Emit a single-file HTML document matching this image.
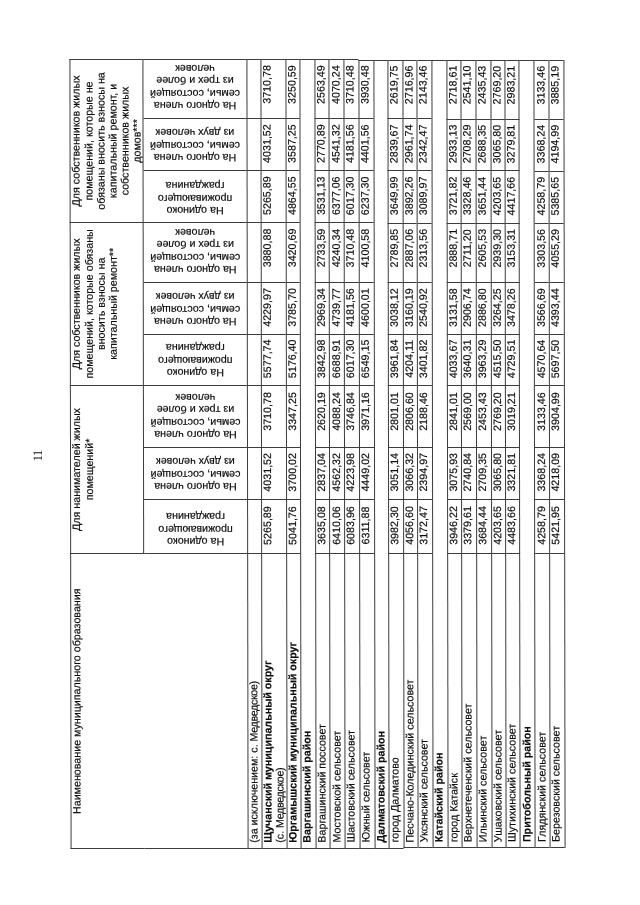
<!DOCTYPE html>
<html lang="ru"><head><meta charset="utf-8"><title>11</title>
<style>
html,body{margin:0;padding:0;background:#fff}
html{overflow:hidden}
body{width:640px;height:905px;overflow:hidden;position:relative}
#sheet{position:absolute;left:0;top:0;width:640px;height:905px;overflow:hidden;background:#fff}
#page{position:absolute;left:0;top:0;width:905px;height:636px;transform-origin:0 0;transform:translate(0,905px) rotate(-90deg) matrix(1,-0.0015,0,1,0,0.6795);font-family:"Liberation Sans",sans-serif;font-size:10.7px;line-height:12.3px;color:#0c0c0c;-webkit-text-stroke:0.18px #0c0c0c}
.l{position:absolute;display:block}
.c{position:absolute;box-sizing:border-box;white-space:nowrap;overflow:visible}
.h{text-align:center;margin-top:0.4px;line-height:12.15px}
.n{text-align:left;margin-top:-0.3px}
.d{text-align:center;margin-top:-0.3px;margin-left:1px}
.t{letter-spacing:-0.36px}
.r{position:absolute;text-align:center;white-space:nowrap;transform:rotate(-90deg);transform-origin:50% 50%}
#pn{position:absolute;left:429.1px;width:40px;text-align:center;top:31.0px;font-family:"Liberation Serif",serif;font-size:13px;line-height:13px;letter-spacing:-0.65px;-webkit-text-stroke:0}
</style></head><body>
<div id="sheet"><div id="page">
<div id="pn">11</div>
<i class="l" style="left:55.60px;top:69.60px;width:790.70px;height:1.0px;background:#3c3c3c"></i>
<i class="l" style="left:350.68px;top:143.40px;width:495.42px;height:1.0px;background:#3c3c3c"></i>
<i class="l" style="left:56.08px;top:246.70px;width:789.73px;height:1.0px;background:#3c3c3c"></i>
<i class="l" style="left:56.12px;top:260.70px;width:789.65px;height:1.0px;background:#3c3c3c"></i>
<i class="l" style="left:56.19px;top:285.80px;width:789.52px;height:1.0px;background:#3c3c3c"></i>
<i class="l" style="left:56.23px;top:299.80px;width:789.44px;height:1.0px;background:#3c3c3c"></i>
<i class="l" style="left:56.27px;top:314.80px;width:789.36px;height:1.0px;background:#3c3c3c"></i>
<i class="l" style="left:56.31px;top:329.30px;width:789.28px;height:1.0px;background:#3c3c3c"></i>
<i class="l" style="left:56.35px;top:344.10px;width:789.20px;height:1.0px;background:#3c3c3c"></i>
<i class="l" style="left:56.39px;top:358.70px;width:789.12px;height:1.0px;background:#3c3c3c"></i>
<i class="l" style="left:56.43px;top:373.80px;width:789.04px;height:1.0px;background:#3c3c3c"></i>
<i class="l" style="left:56.47px;top:387.90px;width:788.96px;height:1.0px;background:#3c3c3c"></i>
<i class="l" style="left:56.51px;top:402.70px;width:788.88px;height:1.0px;background:#3c3c3c"></i>
<i class="l" style="left:56.55px;top:417.00px;width:788.80px;height:1.0px;background:#3c3c3c"></i>
<i class="l" style="left:56.59px;top:431.50px;width:788.72px;height:1.0px;background:#3c3c3c"></i>
<i class="l" style="left:56.63px;top:446.70px;width:788.64px;height:1.0px;background:#3c3c3c"></i>
<i class="l" style="left:56.67px;top:460.80px;width:788.56px;height:1.0px;background:#3c3c3c"></i>
<i class="l" style="left:56.71px;top:475.50px;width:788.48px;height:1.0px;background:#3c3c3c"></i>
<i class="l" style="left:56.75px;top:490.50px;width:788.40px;height:1.0px;background:#3c3c3c"></i>
<i class="l" style="left:56.79px;top:505.00px;width:788.32px;height:1.0px;background:#3c3c3c"></i>
<i class="l" style="left:56.83px;top:519.30px;width:788.24px;height:1.0px;background:#3c3c3c"></i>
<i class="l" style="left:56.87px;top:534.40px;width:788.16px;height:1.0px;background:#3c3c3c"></i>
<i class="l" style="left:56.91px;top:549.00px;width:788.08px;height:1.0px;background:#3c3c3c"></i>
<i class="l" style="left:56.95px;top:563.60px;width:788.00px;height:1.0px;background:#3c3c3c"></i>
<i class="l" style="left:55.70px;top:70.10px;width:1.0px;height:73.80px;background:#3c3c3c"></i>
<i class="l" style="left:350.65px;top:70.10px;width:1.0px;height:73.80px;background:#3c3c3c"></i>
<i class="l" style="left:519.43px;top:70.10px;width:1.0px;height:73.80px;background:#3c3c3c"></i>
<i class="l" style="left:681.92px;top:70.10px;width:1.0px;height:73.80px;background:#3c3c3c"></i>
<i class="l" style="left:845.20px;top:70.10px;width:1.0px;height:73.80px;background:#3c3c3c"></i>
<i class="l" style="left:55.94px;top:143.90px;width:1.0px;height:103.30px;background:#3c3c3c"></i>
<i class="l" style="left:350.71px;top:143.90px;width:1.0px;height:103.30px;background:#3c3c3c"></i>
<i class="l" style="left:405.10px;top:143.90px;width:1.0px;height:103.30px;background:#3c3c3c"></i>
<i class="l" style="left:457.30px;top:143.90px;width:1.0px;height:103.30px;background:#3c3c3c"></i>
<i class="l" style="left:519.39px;top:143.90px;width:1.0px;height:103.30px;background:#3c3c3c"></i>
<i class="l" style="left:570.09px;top:143.90px;width:1.0px;height:103.30px;background:#3c3c3c"></i>
<i class="l" style="left:622.18px;top:143.90px;width:1.0px;height:103.30px;background:#3c3c3c"></i>
<i class="l" style="left:681.77px;top:143.90px;width:1.0px;height:103.30px;background:#3c3c3c"></i>
<i class="l" style="left:734.17px;top:143.90px;width:1.0px;height:103.30px;background:#3c3c3c"></i>
<i class="l" style="left:786.06px;top:143.90px;width:1.0px;height:103.30px;background:#3c3c3c"></i>
<i class="l" style="left:844.96px;top:143.90px;width:1.0px;height:103.30px;background:#3c3c3c"></i>
<i class="l" style="left:56.10px;top:247.20px;width:1.0px;height:14.00px;background:#3c3c3c"></i>
<i class="l" style="left:350.75px;top:247.20px;width:1.0px;height:14.00px;background:#3c3c3c"></i>
<i class="l" style="left:405.12px;top:247.20px;width:1.0px;height:14.00px;background:#3c3c3c"></i>
<i class="l" style="left:457.30px;top:247.20px;width:1.0px;height:14.00px;background:#3c3c3c"></i>
<i class="l" style="left:519.36px;top:247.20px;width:1.0px;height:14.00px;background:#3c3c3c"></i>
<i class="l" style="left:570.04px;top:247.20px;width:1.0px;height:14.00px;background:#3c3c3c"></i>
<i class="l" style="left:622.11px;top:247.20px;width:1.0px;height:14.00px;background:#3c3c3c"></i>
<i class="l" style="left:681.68px;top:247.20px;width:1.0px;height:14.00px;background:#3c3c3c"></i>
<i class="l" style="left:734.05px;top:247.20px;width:1.0px;height:14.00px;background:#3c3c3c"></i>
<i class="l" style="left:785.93px;top:247.20px;width:1.0px;height:14.00px;background:#3c3c3c"></i>
<i class="l" style="left:844.80px;top:247.20px;width:1.0px;height:14.00px;background:#3c3c3c"></i>
<i class="l" style="left:56.16px;top:261.20px;width:1.0px;height:25.10px;background:#3c3c3c"></i>
<i class="l" style="left:350.76px;top:261.20px;width:1.0px;height:25.10px;background:#3c3c3c"></i>
<i class="l" style="left:405.13px;top:261.20px;width:1.0px;height:25.10px;background:#3c3c3c"></i>
<i class="l" style="left:457.30px;top:261.20px;width:1.0px;height:25.10px;background:#3c3c3c"></i>
<i class="l" style="left:519.36px;top:261.20px;width:1.0px;height:25.10px;background:#3c3c3c"></i>
<i class="l" style="left:570.02px;top:261.20px;width:1.0px;height:25.10px;background:#3c3c3c"></i>
<i class="l" style="left:622.09px;top:261.20px;width:1.0px;height:25.10px;background:#3c3c3c"></i>
<i class="l" style="left:681.65px;top:261.20px;width:1.0px;height:25.10px;background:#3c3c3c"></i>
<i class="l" style="left:734.02px;top:261.20px;width:1.0px;height:25.10px;background:#3c3c3c"></i>
<i class="l" style="left:785.88px;top:261.20px;width:1.0px;height:25.10px;background:#3c3c3c"></i>
<i class="l" style="left:844.74px;top:261.20px;width:1.0px;height:25.10px;background:#3c3c3c"></i>
<i class="l" style="left:56.21px;top:286.30px;width:1.0px;height:14.00px;background:#3c3c3c"></i>
<i class="l" style="left:350.78px;top:286.30px;width:1.0px;height:14.00px;background:#3c3c3c"></i>
<i class="l" style="left:405.14px;top:286.30px;width:1.0px;height:14.00px;background:#3c3c3c"></i>
<i class="l" style="left:457.29px;top:286.30px;width:1.0px;height:14.00px;background:#3c3c3c"></i>
<i class="l" style="left:519.35px;top:286.30px;width:1.0px;height:14.00px;background:#3c3c3c"></i>
<i class="l" style="left:570.01px;top:286.30px;width:1.0px;height:14.00px;background:#3c3c3c"></i>
<i class="l" style="left:622.06px;top:286.30px;width:1.0px;height:14.00px;background:#3c3c3c"></i>
<i class="l" style="left:681.62px;top:286.30px;width:1.0px;height:14.00px;background:#3c3c3c"></i>
<i class="l" style="left:733.98px;top:286.30px;width:1.0px;height:14.00px;background:#3c3c3c"></i>
<i class="l" style="left:785.84px;top:286.30px;width:1.0px;height:14.00px;background:#3c3c3c"></i>
<i class="l" style="left:844.69px;top:286.30px;width:1.0px;height:14.00px;background:#3c3c3c"></i>
<i class="l" style="left:56.25px;top:300.30px;width:1.0px;height:15.00px;background:#3c3c3c"></i>
<i class="l" style="left:844.65px;top:300.30px;width:1.0px;height:15.00px;background:#3c3c3c"></i>
<i class="l" style="left:56.29px;top:315.30px;width:1.0px;height:14.50px;background:#3c3c3c"></i>
<i class="l" style="left:350.80px;top:315.30px;width:1.0px;height:14.50px;background:#3c3c3c"></i>
<i class="l" style="left:405.14px;top:315.30px;width:1.0px;height:14.50px;background:#3c3c3c"></i>
<i class="l" style="left:457.29px;top:315.30px;width:1.0px;height:14.50px;background:#3c3c3c"></i>
<i class="l" style="left:519.33px;top:315.30px;width:1.0px;height:14.50px;background:#3c3c3c"></i>
<i class="l" style="left:569.98px;top:315.30px;width:1.0px;height:14.50px;background:#3c3c3c"></i>
<i class="l" style="left:622.03px;top:315.30px;width:1.0px;height:14.50px;background:#3c3c3c"></i>
<i class="l" style="left:681.57px;top:315.30px;width:1.0px;height:14.50px;background:#3c3c3c"></i>
<i class="l" style="left:733.92px;top:315.30px;width:1.0px;height:14.50px;background:#3c3c3c"></i>
<i class="l" style="left:785.77px;top:315.30px;width:1.0px;height:14.50px;background:#3c3c3c"></i>
<i class="l" style="left:844.61px;top:315.30px;width:1.0px;height:14.50px;background:#3c3c3c"></i>
<i class="l" style="left:56.33px;top:329.80px;width:1.0px;height:14.80px;background:#3c3c3c"></i>
<i class="l" style="left:350.81px;top:329.80px;width:1.0px;height:14.80px;background:#3c3c3c"></i>
<i class="l" style="left:405.15px;top:329.80px;width:1.0px;height:14.80px;background:#3c3c3c"></i>
<i class="l" style="left:457.29px;top:329.80px;width:1.0px;height:14.80px;background:#3c3c3c"></i>
<i class="l" style="left:519.32px;top:329.80px;width:1.0px;height:14.80px;background:#3c3c3c"></i>
<i class="l" style="left:569.97px;top:329.80px;width:1.0px;height:14.80px;background:#3c3c3c"></i>
<i class="l" style="left:622.01px;top:329.80px;width:1.0px;height:14.80px;background:#3c3c3c"></i>
<i class="l" style="left:681.55px;top:329.80px;width:1.0px;height:14.80px;background:#3c3c3c"></i>
<i class="l" style="left:733.89px;top:329.80px;width:1.0px;height:14.80px;background:#3c3c3c"></i>
<i class="l" style="left:785.73px;top:329.80px;width:1.0px;height:14.80px;background:#3c3c3c"></i>
<i class="l" style="left:844.57px;top:329.80px;width:1.0px;height:14.80px;background:#3c3c3c"></i>
<i class="l" style="left:56.37px;top:344.60px;width:1.0px;height:14.60px;background:#3c3c3c"></i>
<i class="l" style="left:350.82px;top:344.60px;width:1.0px;height:14.60px;background:#3c3c3c"></i>
<i class="l" style="left:405.15px;top:344.60px;width:1.0px;height:14.60px;background:#3c3c3c"></i>
<i class="l" style="left:457.29px;top:344.60px;width:1.0px;height:14.60px;background:#3c3c3c"></i>
<i class="l" style="left:519.32px;top:344.60px;width:1.0px;height:14.60px;background:#3c3c3c"></i>
<i class="l" style="left:569.96px;top:344.60px;width:1.0px;height:14.60px;background:#3c3c3c"></i>
<i class="l" style="left:622.00px;top:344.60px;width:1.0px;height:14.60px;background:#3c3c3c"></i>
<i class="l" style="left:681.52px;top:344.60px;width:1.0px;height:14.60px;background:#3c3c3c"></i>
<i class="l" style="left:733.86px;top:344.60px;width:1.0px;height:14.60px;background:#3c3c3c"></i>
<i class="l" style="left:785.70px;top:344.60px;width:1.0px;height:14.60px;background:#3c3c3c"></i>
<i class="l" style="left:844.53px;top:344.60px;width:1.0px;height:14.60px;background:#3c3c3c"></i>
<i class="l" style="left:56.41px;top:359.20px;width:1.0px;height:15.10px;background:#3c3c3c"></i>
<i class="l" style="left:350.83px;top:359.20px;width:1.0px;height:15.10px;background:#3c3c3c"></i>
<i class="l" style="left:405.16px;top:359.20px;width:1.0px;height:15.10px;background:#3c3c3c"></i>
<i class="l" style="left:457.29px;top:359.20px;width:1.0px;height:15.10px;background:#3c3c3c"></i>
<i class="l" style="left:519.31px;top:359.20px;width:1.0px;height:15.10px;background:#3c3c3c"></i>
<i class="l" style="left:569.94px;top:359.20px;width:1.0px;height:15.10px;background:#3c3c3c"></i>
<i class="l" style="left:621.98px;top:359.20px;width:1.0px;height:15.10px;background:#3c3c3c"></i>
<i class="l" style="left:681.50px;top:359.20px;width:1.0px;height:15.10px;background:#3c3c3c"></i>
<i class="l" style="left:733.83px;top:359.20px;width:1.0px;height:15.10px;background:#3c3c3c"></i>
<i class="l" style="left:785.67px;top:359.20px;width:1.0px;height:15.10px;background:#3c3c3c"></i>
<i class="l" style="left:844.49px;top:359.20px;width:1.0px;height:15.10px;background:#3c3c3c"></i>
<i class="l" style="left:56.45px;top:374.30px;width:1.0px;height:14.10px;background:#3c3c3c"></i>
<i class="l" style="left:844.45px;top:374.30px;width:1.0px;height:14.10px;background:#3c3c3c"></i>
<i class="l" style="left:56.49px;top:388.40px;width:1.0px;height:14.80px;background:#3c3c3c"></i>
<i class="l" style="left:350.85px;top:388.40px;width:1.0px;height:14.80px;background:#3c3c3c"></i>
<i class="l" style="left:405.17px;top:388.40px;width:1.0px;height:14.80px;background:#3c3c3c"></i>
<i class="l" style="left:457.29px;top:388.40px;width:1.0px;height:14.80px;background:#3c3c3c"></i>
<i class="l" style="left:519.30px;top:388.40px;width:1.0px;height:14.80px;background:#3c3c3c"></i>
<i class="l" style="left:569.92px;top:388.40px;width:1.0px;height:14.80px;background:#3c3c3c"></i>
<i class="l" style="left:621.94px;top:388.40px;width:1.0px;height:14.80px;background:#3c3c3c"></i>
<i class="l" style="left:681.45px;top:388.40px;width:1.0px;height:14.80px;background:#3c3c3c"></i>
<i class="l" style="left:733.78px;top:388.40px;width:1.0px;height:14.80px;background:#3c3c3c"></i>
<i class="l" style="left:785.60px;top:388.40px;width:1.0px;height:14.80px;background:#3c3c3c"></i>
<i class="l" style="left:844.41px;top:388.40px;width:1.0px;height:14.80px;background:#3c3c3c"></i>
<i class="l" style="left:56.53px;top:403.20px;width:1.0px;height:14.30px;background:#3c3c3c"></i>
<i class="l" style="left:350.86px;top:403.20px;width:1.0px;height:14.30px;background:#3c3c3c"></i>
<i class="l" style="left:405.17px;top:403.20px;width:1.0px;height:14.30px;background:#3c3c3c"></i>
<i class="l" style="left:457.29px;top:403.20px;width:1.0px;height:14.30px;background:#3c3c3c"></i>
<i class="l" style="left:519.29px;top:403.20px;width:1.0px;height:14.30px;background:#3c3c3c"></i>
<i class="l" style="left:569.91px;top:403.20px;width:1.0px;height:14.30px;background:#3c3c3c"></i>
<i class="l" style="left:621.93px;top:403.20px;width:1.0px;height:14.30px;background:#3c3c3c"></i>
<i class="l" style="left:681.43px;top:403.20px;width:1.0px;height:14.30px;background:#3c3c3c"></i>
<i class="l" style="left:733.75px;top:403.20px;width:1.0px;height:14.30px;background:#3c3c3c"></i>
<i class="l" style="left:785.56px;top:403.20px;width:1.0px;height:14.30px;background:#3c3c3c"></i>
<i class="l" style="left:844.37px;top:403.20px;width:1.0px;height:14.30px;background:#3c3c3c"></i>
<i class="l" style="left:56.57px;top:417.50px;width:1.0px;height:14.50px;background:#3c3c3c"></i>
<i class="l" style="left:350.87px;top:417.50px;width:1.0px;height:14.50px;background:#3c3c3c"></i>
<i class="l" style="left:405.18px;top:417.50px;width:1.0px;height:14.50px;background:#3c3c3c"></i>
<i class="l" style="left:457.29px;top:417.50px;width:1.0px;height:14.50px;background:#3c3c3c"></i>
<i class="l" style="left:519.28px;top:417.50px;width:1.0px;height:14.50px;background:#3c3c3c"></i>
<i class="l" style="left:569.90px;top:417.50px;width:1.0px;height:14.50px;background:#3c3c3c"></i>
<i class="l" style="left:621.91px;top:417.50px;width:1.0px;height:14.50px;background:#3c3c3c"></i>
<i class="l" style="left:681.41px;top:417.50px;width:1.0px;height:14.50px;background:#3c3c3c"></i>
<i class="l" style="left:733.72px;top:417.50px;width:1.0px;height:14.50px;background:#3c3c3c"></i>
<i class="l" style="left:785.53px;top:417.50px;width:1.0px;height:14.50px;background:#3c3c3c"></i>
<i class="l" style="left:844.33px;top:417.50px;width:1.0px;height:14.50px;background:#3c3c3c"></i>
<i class="l" style="left:56.61px;top:432.00px;width:1.0px;height:15.20px;background:#3c3c3c"></i>
<i class="l" style="left:844.29px;top:432.00px;width:1.0px;height:15.20px;background:#3c3c3c"></i>
<i class="l" style="left:56.65px;top:447.20px;width:1.0px;height:14.10px;background:#3c3c3c"></i>
<i class="l" style="left:350.89px;top:447.20px;width:1.0px;height:14.10px;background:#3c3c3c"></i>
<i class="l" style="left:405.19px;top:447.20px;width:1.0px;height:14.10px;background:#3c3c3c"></i>
<i class="l" style="left:457.29px;top:447.20px;width:1.0px;height:14.10px;background:#3c3c3c"></i>
<i class="l" style="left:519.27px;top:447.20px;width:1.0px;height:14.10px;background:#3c3c3c"></i>
<i class="l" style="left:569.87px;top:447.20px;width:1.0px;height:14.10px;background:#3c3c3c"></i>
<i class="l" style="left:621.87px;top:447.20px;width:1.0px;height:14.10px;background:#3c3c3c"></i>
<i class="l" style="left:681.36px;top:447.20px;width:1.0px;height:14.10px;background:#3c3c3c"></i>
<i class="l" style="left:733.66px;top:447.20px;width:1.0px;height:14.10px;background:#3c3c3c"></i>
<i class="l" style="left:785.46px;top:447.20px;width:1.0px;height:14.10px;background:#3c3c3c"></i>
<i class="l" style="left:844.25px;top:447.20px;width:1.0px;height:14.10px;background:#3c3c3c"></i>
<i class="l" style="left:56.69px;top:461.30px;width:1.0px;height:14.70px;background:#3c3c3c"></i>
<i class="l" style="left:350.90px;top:461.30px;width:1.0px;height:14.70px;background:#3c3c3c"></i>
<i class="l" style="left:405.19px;top:461.30px;width:1.0px;height:14.70px;background:#3c3c3c"></i>
<i class="l" style="left:457.29px;top:461.30px;width:1.0px;height:14.70px;background:#3c3c3c"></i>
<i class="l" style="left:519.26px;top:461.30px;width:1.0px;height:14.70px;background:#3c3c3c"></i>
<i class="l" style="left:569.86px;top:461.30px;width:1.0px;height:14.70px;background:#3c3c3c"></i>
<i class="l" style="left:621.86px;top:461.30px;width:1.0px;height:14.70px;background:#3c3c3c"></i>
<i class="l" style="left:681.34px;top:461.30px;width:1.0px;height:14.70px;background:#3c3c3c"></i>
<i class="l" style="left:733.63px;top:461.30px;width:1.0px;height:14.70px;background:#3c3c3c"></i>
<i class="l" style="left:785.43px;top:461.30px;width:1.0px;height:14.70px;background:#3c3c3c"></i>
<i class="l" style="left:844.21px;top:461.30px;width:1.0px;height:14.70px;background:#3c3c3c"></i>
<i class="l" style="left:56.73px;top:476.00px;width:1.0px;height:15.00px;background:#3c3c3c"></i>
<i class="l" style="left:350.91px;top:476.00px;width:1.0px;height:15.00px;background:#3c3c3c"></i>
<i class="l" style="left:405.20px;top:476.00px;width:1.0px;height:15.00px;background:#3c3c3c"></i>
<i class="l" style="left:457.29px;top:476.00px;width:1.0px;height:15.00px;background:#3c3c3c"></i>
<i class="l" style="left:519.25px;top:476.00px;width:1.0px;height:15.00px;background:#3c3c3c"></i>
<i class="l" style="left:569.85px;top:476.00px;width:1.0px;height:15.00px;background:#3c3c3c"></i>
<i class="l" style="left:621.84px;top:476.00px;width:1.0px;height:15.00px;background:#3c3c3c"></i>
<i class="l" style="left:681.31px;top:476.00px;width:1.0px;height:15.00px;background:#3c3c3c"></i>
<i class="l" style="left:733.60px;top:476.00px;width:1.0px;height:15.00px;background:#3c3c3c"></i>
<i class="l" style="left:785.39px;top:476.00px;width:1.0px;height:15.00px;background:#3c3c3c"></i>
<i class="l" style="left:844.17px;top:476.00px;width:1.0px;height:15.00px;background:#3c3c3c"></i>
<i class="l" style="left:56.77px;top:491.00px;width:1.0px;height:14.50px;background:#3c3c3c"></i>
<i class="l" style="left:350.92px;top:491.00px;width:1.0px;height:14.50px;background:#3c3c3c"></i>
<i class="l" style="left:405.20px;top:491.00px;width:1.0px;height:14.50px;background:#3c3c3c"></i>
<i class="l" style="left:457.28px;top:491.00px;width:1.0px;height:14.50px;background:#3c3c3c"></i>
<i class="l" style="left:519.25px;top:491.00px;width:1.0px;height:14.50px;background:#3c3c3c"></i>
<i class="l" style="left:569.84px;top:491.00px;width:1.0px;height:14.50px;background:#3c3c3c"></i>
<i class="l" style="left:621.82px;top:491.00px;width:1.0px;height:14.50px;background:#3c3c3c"></i>
<i class="l" style="left:681.29px;top:491.00px;width:1.0px;height:14.50px;background:#3c3c3c"></i>
<i class="l" style="left:733.57px;top:491.00px;width:1.0px;height:14.50px;background:#3c3c3c"></i>
<i class="l" style="left:785.36px;top:491.00px;width:1.0px;height:14.50px;background:#3c3c3c"></i>
<i class="l" style="left:844.13px;top:491.00px;width:1.0px;height:14.50px;background:#3c3c3c"></i>
<i class="l" style="left:56.81px;top:505.50px;width:1.0px;height:14.30px;background:#3c3c3c"></i>
<i class="l" style="left:350.93px;top:505.50px;width:1.0px;height:14.30px;background:#3c3c3c"></i>
<i class="l" style="left:405.20px;top:505.50px;width:1.0px;height:14.30px;background:#3c3c3c"></i>
<i class="l" style="left:457.28px;top:505.50px;width:1.0px;height:14.30px;background:#3c3c3c"></i>
<i class="l" style="left:519.24px;top:505.50px;width:1.0px;height:14.30px;background:#3c3c3c"></i>
<i class="l" style="left:569.82px;top:505.50px;width:1.0px;height:14.30px;background:#3c3c3c"></i>
<i class="l" style="left:621.80px;top:505.50px;width:1.0px;height:14.30px;background:#3c3c3c"></i>
<i class="l" style="left:681.27px;top:505.50px;width:1.0px;height:14.30px;background:#3c3c3c"></i>
<i class="l" style="left:733.55px;top:505.50px;width:1.0px;height:14.30px;background:#3c3c3c"></i>
<i class="l" style="left:785.33px;top:505.50px;width:1.0px;height:14.30px;background:#3c3c3c"></i>
<i class="l" style="left:844.09px;top:505.50px;width:1.0px;height:14.30px;background:#3c3c3c"></i>
<i class="l" style="left:56.85px;top:519.80px;width:1.0px;height:15.10px;background:#3c3c3c"></i>
<i class="l" style="left:844.05px;top:519.80px;width:1.0px;height:15.10px;background:#3c3c3c"></i>
<i class="l" style="left:56.89px;top:534.90px;width:1.0px;height:14.60px;background:#3c3c3c"></i>
<i class="l" style="left:350.95px;top:534.90px;width:1.0px;height:14.60px;background:#3c3c3c"></i>
<i class="l" style="left:405.21px;top:534.90px;width:1.0px;height:14.60px;background:#3c3c3c"></i>
<i class="l" style="left:457.28px;top:534.90px;width:1.0px;height:14.60px;background:#3c3c3c"></i>
<i class="l" style="left:519.23px;top:534.90px;width:1.0px;height:14.60px;background:#3c3c3c"></i>
<i class="l" style="left:569.80px;top:534.90px;width:1.0px;height:14.60px;background:#3c3c3c"></i>
<i class="l" style="left:621.77px;top:534.90px;width:1.0px;height:14.60px;background:#3c3c3c"></i>
<i class="l" style="left:681.22px;top:534.90px;width:1.0px;height:14.60px;background:#3c3c3c"></i>
<i class="l" style="left:733.49px;top:534.90px;width:1.0px;height:14.60px;background:#3c3c3c"></i>
<i class="l" style="left:785.26px;top:534.90px;width:1.0px;height:14.60px;background:#3c3c3c"></i>
<i class="l" style="left:844.01px;top:534.90px;width:1.0px;height:14.60px;background:#3c3c3c"></i>
<i class="l" style="left:56.93px;top:549.50px;width:1.0px;height:14.60px;background:#3c3c3c"></i>
<i class="l" style="left:350.96px;top:549.50px;width:1.0px;height:14.60px;background:#3c3c3c"></i>
<i class="l" style="left:405.22px;top:549.50px;width:1.0px;height:14.60px;background:#3c3c3c"></i>
<i class="l" style="left:457.28px;top:549.50px;width:1.0px;height:14.60px;background:#3c3c3c"></i>
<i class="l" style="left:519.22px;top:549.50px;width:1.0px;height:14.60px;background:#3c3c3c"></i>
<i class="l" style="left:569.79px;top:549.50px;width:1.0px;height:14.60px;background:#3c3c3c"></i>
<i class="l" style="left:621.75px;top:549.50px;width:1.0px;height:14.60px;background:#3c3c3c"></i>
<i class="l" style="left:681.20px;top:549.50px;width:1.0px;height:14.60px;background:#3c3c3c"></i>
<i class="l" style="left:733.46px;top:549.50px;width:1.0px;height:14.60px;background:#3c3c3c"></i>
<i class="l" style="left:785.22px;top:549.50px;width:1.0px;height:14.60px;background:#3c3c3c"></i>
<i class="l" style="left:843.97px;top:549.50px;width:1.0px;height:14.60px;background:#3c3c3c"></i>
<div class="c h" style="left:56.34px;top:70.10px;width:294.84px;height:177.10px">Наименование муниципального образования</div>
<div class="c h" style="left:351.15px;top:70.10px;width:168.79px;height:73.80px">Для нанимателей жилых<br>помещений*</div>
<div class="c h" style="left:519.93px;top:70.10px;width:162.48px;height:73.80px">Для собственников жилых<br>помещений, которые обязаны<br>вносить взносы на<br>капитальный ремонт**</div>
<div class="c h" style="left:682.42px;top:70.10px;width:163.28px;height:73.80px">Для собственников жилых<br>помещений, которые не<br>обязаны вносить взносы на<br>капитальный ремонт, и<br>собственников жилых<br>домов***</div>
<div class="r" style="left:324.31px;top:177.10px;width:103.30px;height:36.90px">На одиноко<br>проживающего<br>гражданина</div>
<div class="r" style="left:378.70px;top:177.10px;width:103.30px;height:36.90px">На одного члена<br>семьи, состоящей<br>из двух человек</div>
<div class="r" style="left:437.05px;top:170.95px;width:103.30px;height:49.20px">На одного члена<br>семьи, состоящей<br>из трех и более<br>человек</div>
<div class="r" style="left:492.99px;top:177.10px;width:103.30px;height:36.90px">На одиноко<br>проживающего<br>гражданина</div>
<div class="r" style="left:543.69px;top:177.10px;width:103.30px;height:36.90px">На одного члена<br>семьи, состоящей<br>из двух человек</div>
<div class="r" style="left:601.93px;top:170.95px;width:103.30px;height:49.20px">На одного члена<br>семьи, состоящей<br>из трех и более<br>человек</div>
<div class="r" style="left:655.37px;top:177.10px;width:103.30px;height:36.90px">На одиноко<br>проживающего<br>гражданина</div>
<div class="r" style="left:707.77px;top:177.10px;width:103.30px;height:36.90px">На одного члена<br>семьи, состоящей<br>из двух человек</div>
<div class="r" style="left:765.81px;top:170.95px;width:103.30px;height:49.20px">На одного члена<br>семьи, состоящей<br>из трех и более<br>человек</div>
<div class="c n" style="left:62.20px;top:247.20px;width:289.05px;height:14.00px">(за исключением: с. <span class="t">Медведское</span>)</div>
<div class="c n" style="left:62.26px;top:261.20px;width:289.01px;height:25.10px"><b>Щучанский муниципальный округ</b><br>(с. <span class="t">Медведское</span>)</div>
<div class="c d" style="left:351.26px;top:261.20px;width:54.36px;height:25.10px">5265,89</div>
<div class="c d" style="left:405.63px;top:261.20px;width:52.17px;height:25.10px">4031,52</div>
<div class="c d" style="left:461.50px;top:261.20px;width:62.06px;height:25.10px">3710,78</div>
<div class="c d" style="left:519.86px;top:261.20px;width:50.67px;height:25.10px">5577,74</div>
<div class="c d" style="left:570.52px;top:261.20px;width:52.07px;height:25.10px">4229,97</div>
<div class="c d" style="left:626.29px;top:261.20px;width:59.56px;height:25.10px">3880,88</div>
<div class="c d" style="left:682.15px;top:261.20px;width:52.37px;height:25.10px">5265,89</div>
<div class="c d" style="left:734.52px;top:261.20px;width:51.87px;height:25.10px">4031,52</div>
<div class="c d" style="left:790.08px;top:261.20px;width:58.86px;height:25.10px">3710,78</div>
<div class="c n" style="left:62.31px;top:286.30px;width:288.97px;height:14.00px"><b>Юргамышский муниципальный округ</b></div>
<div class="c d" style="left:351.28px;top:286.30px;width:54.36px;height:14.00px">5041,76</div>
<div class="c d" style="left:405.64px;top:286.30px;width:52.16px;height:14.00px">3700,02</div>
<div class="c d" style="left:461.49px;top:286.30px;width:62.05px;height:14.00px">3347,25</div>
<div class="c d" style="left:519.85px;top:286.30px;width:50.66px;height:14.00px">5176,40</div>
<div class="c d" style="left:570.51px;top:286.30px;width:52.06px;height:14.00px">3785,70</div>
<div class="c d" style="left:626.26px;top:286.30px;width:59.55px;height:14.00px">3420,69</div>
<div class="c d" style="left:682.12px;top:286.30px;width:52.36px;height:14.00px">4864,55</div>
<div class="c d" style="left:734.48px;top:286.30px;width:51.86px;height:14.00px">3587,25</div>
<div class="c d" style="left:790.04px;top:286.30px;width:58.85px;height:14.00px">3250,59</div>
<div class="c n" style="left:62.35px;top:300.30px;width:288.94px;height:15.00px"><b>Варгашинский район</b></div>
<div class="c n" style="left:62.39px;top:315.30px;width:288.91px;height:14.50px">Варгашинский поссовет</div>
<div class="c d" style="left:351.30px;top:315.30px;width:54.35px;height:14.50px">3635,08</div>
<div class="c d" style="left:405.64px;top:315.30px;width:52.15px;height:14.50px">2837,04</div>
<div class="c d" style="left:461.49px;top:315.30px;width:62.04px;height:14.50px">2620,19</div>
<div class="c d" style="left:519.83px;top:315.30px;width:50.65px;height:14.50px">3842,98</div>
<div class="c d" style="left:570.48px;top:315.30px;width:52.05px;height:14.50px">2969,34</div>
<div class="c d" style="left:626.23px;top:315.30px;width:59.54px;height:14.50px">2733,59</div>
<div class="c d" style="left:682.07px;top:315.30px;width:52.35px;height:14.50px">3531,13</div>
<div class="c d" style="left:734.42px;top:315.30px;width:51.85px;height:14.50px">2770,89</div>
<div class="c d" style="left:789.97px;top:315.30px;width:58.84px;height:14.50px">2563,49</div>
<div class="c n" style="left:62.43px;top:329.80px;width:288.88px;height:14.80px">Мостовской сельсовет</div>
<div class="c d" style="left:351.31px;top:329.80px;width:54.34px;height:14.80px">6410,06</div>
<div class="c d" style="left:405.65px;top:329.80px;width:52.14px;height:14.80px">4562,32</div>
<div class="c d" style="left:461.49px;top:329.80px;width:62.03px;height:14.80px">4088,24</div>
<div class="c d" style="left:519.82px;top:329.80px;width:50.64px;height:14.80px">6688,91</div>
<div class="c d" style="left:570.47px;top:329.80px;width:52.04px;height:14.80px">4739,77</div>
<div class="c d" style="left:626.21px;top:329.80px;width:59.54px;height:14.80px">4240,34</div>
<div class="c d" style="left:682.05px;top:329.80px;width:52.34px;height:14.80px">6377,06</div>
<div class="c d" style="left:734.39px;top:329.80px;width:51.84px;height:14.80px">4541,32</div>
<div class="c d" style="left:789.93px;top:329.80px;width:58.84px;height:14.80px">4070,24</div>
<div class="c n" style="left:62.47px;top:344.60px;width:288.85px;height:14.60px">Шастовский сельсовет</div>
<div class="c d" style="left:351.32px;top:344.60px;width:54.34px;height:14.60px">6083,96</div>
<div class="c d" style="left:405.65px;top:344.60px;width:52.14px;height:14.60px">4223,98</div>
<div class="c d" style="left:461.49px;top:344.60px;width:62.03px;height:14.60px">3746,84</div>
<div class="c d" style="left:519.82px;top:344.60px;width:50.64px;height:14.60px">6017,30</div>
<div class="c d" style="left:570.46px;top:344.60px;width:52.04px;height:14.60px">4181,56</div>
<div class="c d" style="left:626.20px;top:344.60px;width:59.53px;height:14.60px">3710,48</div>
<div class="c d" style="left:682.02px;top:344.60px;width:52.34px;height:14.60px">6017,30</div>
<div class="c d" style="left:734.36px;top:344.60px;width:51.84px;height:14.60px">4181,56</div>
<div class="c d" style="left:789.90px;top:344.60px;width:58.83px;height:14.60px">3710,48</div>
<div class="c n" style="left:62.51px;top:359.20px;width:288.82px;height:15.10px">Южный сельсовет</div>
<div class="c d" style="left:351.33px;top:359.20px;width:54.33px;height:15.10px">6311,88</div>
<div class="c d" style="left:405.66px;top:359.20px;width:52.13px;height:15.10px">4449,02</div>
<div class="c d" style="left:461.49px;top:359.20px;width:62.02px;height:15.10px">3971,16</div>
<div class="c d" style="left:519.81px;top:359.20px;width:50.63px;height:15.10px">6549,15</div>
<div class="c d" style="left:570.44px;top:359.20px;width:52.03px;height:15.10px">4600,01</div>
<div class="c d" style="left:626.18px;top:359.20px;width:59.52px;height:15.10px">4100,58</div>
<div class="c d" style="left:682.00px;top:359.20px;width:52.33px;height:15.10px">6237,30</div>
<div class="c d" style="left:734.33px;top:359.20px;width:51.83px;height:15.10px">4401,56</div>
<div class="c d" style="left:789.87px;top:359.20px;width:58.82px;height:15.10px">3930,48</div>
<div class="c n" style="left:62.55px;top:374.30px;width:288.79px;height:14.10px"><b>Далматовский район</b></div>
<div class="c n" style="left:62.59px;top:388.40px;width:288.76px;height:14.80px">город Далматово</div>
<div class="c d" style="left:351.35px;top:388.40px;width:54.32px;height:14.80px">3982,30</div>
<div class="c d" style="left:405.67px;top:388.40px;width:52.12px;height:14.80px">3051,14</div>
<div class="c d" style="left:461.49px;top:388.40px;width:62.01px;height:14.80px">2801,01</div>
<div class="c d" style="left:519.80px;top:388.40px;width:50.62px;height:14.80px">3961,84</div>
<div class="c d" style="left:570.42px;top:388.40px;width:52.02px;height:14.80px">3038,12</div>
<div class="c d" style="left:626.14px;top:388.40px;width:59.51px;height:14.80px">2789,85</div>
<div class="c d" style="left:681.95px;top:388.40px;width:52.32px;height:14.80px">3649,99</div>
<div class="c d" style="left:734.28px;top:388.40px;width:51.82px;height:14.80px">2839,67</div>
<div class="c d" style="left:789.80px;top:388.40px;width:58.81px;height:14.80px">2619,75</div>
<div class="c n" style="left:62.63px;top:403.20px;width:288.73px;height:14.30px">Песчано-Колединский сельсовет</div>
<div class="c d" style="left:351.36px;top:403.20px;width:54.31px;height:14.30px">4056,60</div>
<div class="c d" style="left:405.67px;top:403.20px;width:52.12px;height:14.30px">3066,32</div>
<div class="c d" style="left:461.49px;top:403.20px;width:62.00px;height:14.30px">2806,60</div>
<div class="c d" style="left:519.79px;top:403.20px;width:50.62px;height:14.30px">4204,11</div>
<div class="c d" style="left:570.41px;top:403.20px;width:52.02px;height:14.30px">3160,19</div>
<div class="c d" style="left:626.13px;top:403.20px;width:59.50px;height:14.30px">2887,06</div>
<div class="c d" style="left:681.93px;top:403.20px;width:52.32px;height:14.30px">3892,26</div>
<div class="c d" style="left:734.25px;top:403.20px;width:51.82px;height:14.30px">2961,74</div>
<div class="c d" style="left:789.76px;top:403.20px;width:58.81px;height:14.30px">2716,96</div>
<div class="c n" style="left:62.67px;top:417.50px;width:288.70px;height:14.50px">Уксянский сельсовет</div>
<div class="c d" style="left:351.37px;top:417.50px;width:54.31px;height:14.50px">3172,47</div>
<div class="c d" style="left:405.68px;top:417.50px;width:52.11px;height:14.50px">2394,97</div>
<div class="c d" style="left:461.49px;top:417.50px;width:61.99px;height:14.50px">2188,46</div>
<div class="c d" style="left:519.78px;top:417.50px;width:50.61px;height:14.50px">3401,82</div>
<div class="c d" style="left:570.40px;top:417.50px;width:52.01px;height:14.50px">2540,92</div>
<div class="c d" style="left:626.11px;top:417.50px;width:59.50px;height:14.50px">2313,56</div>
<div class="c d" style="left:681.91px;top:417.50px;width:52.31px;height:14.50px">3089,97</div>
<div class="c d" style="left:734.22px;top:417.50px;width:51.81px;height:14.50px">2342,47</div>
<div class="c d" style="left:789.73px;top:417.50px;width:58.80px;height:14.50px">2143,46</div>
<div class="c n" style="left:62.71px;top:432.00px;width:288.67px;height:15.20px"><b>Катайский район</b></div>
<div class="c n" style="left:62.75px;top:447.20px;width:288.64px;height:14.10px">город Катайск</div>
<div class="c d" style="left:351.39px;top:447.20px;width:54.30px;height:14.10px">3946,22</div>
<div class="c d" style="left:405.69px;top:447.20px;width:52.10px;height:14.10px">3075,93</div>
<div class="c d" style="left:461.49px;top:447.20px;width:61.98px;height:14.10px">2841,01</div>
<div class="c d" style="left:519.77px;top:447.20px;width:50.60px;height:14.10px">4033,67</div>
<div class="c d" style="left:570.37px;top:447.20px;width:52.00px;height:14.10px">3131,58</div>
<div class="c d" style="left:626.07px;top:447.20px;width:59.49px;height:14.10px">2888,71</div>
<div class="c d" style="left:681.86px;top:447.20px;width:52.30px;height:14.10px">3721,82</div>
<div class="c d" style="left:734.16px;top:447.20px;width:51.80px;height:14.10px">2933,13</div>
<div class="c d" style="left:789.66px;top:447.20px;width:58.79px;height:14.10px">2718,61</div>
<div class="c n" style="left:62.79px;top:461.30px;width:288.61px;height:14.70px">Верхнетеченский сельсовет</div>
<div class="c d" style="left:351.40px;top:461.30px;width:54.29px;height:14.70px">3379,61</div>
<div class="c d" style="left:405.69px;top:461.30px;width:52.10px;height:14.70px">2740,84</div>
<div class="c d" style="left:461.49px;top:461.30px;width:61.98px;height:14.70px">2569,00</div>
<div class="c d" style="left:519.76px;top:461.30px;width:50.60px;height:14.70px">3640,31</div>
<div class="c d" style="left:570.36px;top:461.30px;width:52.00px;height:14.70px">2906,74</div>
<div class="c d" style="left:626.06px;top:461.30px;width:59.48px;height:14.70px">2711,20</div>
<div class="c d" style="left:681.84px;top:461.30px;width:52.30px;height:14.70px">3328,46</div>
<div class="c d" style="left:734.13px;top:461.30px;width:51.80px;height:14.70px">2708,29</div>
<div class="c d" style="left:789.63px;top:461.30px;width:58.78px;height:14.70px">2541,10</div>
<div class="c n" style="left:62.83px;top:476.00px;width:288.58px;height:15.00px">Ильинский сельсовет</div>
<div class="c d" style="left:351.41px;top:476.00px;width:54.29px;height:15.00px">3684,44</div>
<div class="c d" style="left:405.70px;top:476.00px;width:52.09px;height:15.00px">2709,35</div>
<div class="c d" style="left:461.49px;top:476.00px;width:61.97px;height:15.00px">2453,43</div>
<div class="c d" style="left:519.75px;top:476.00px;width:50.59px;height:15.00px">3963,29</div>
<div class="c d" style="left:570.35px;top:476.00px;width:51.99px;height:15.00px">2886,80</div>
<div class="c d" style="left:626.04px;top:476.00px;width:59.47px;height:15.00px">2605,53</div>
<div class="c d" style="left:681.81px;top:476.00px;width:52.29px;height:15.00px">3651,44</div>
<div class="c d" style="left:734.10px;top:476.00px;width:51.79px;height:15.00px">2688,35</div>
<div class="c d" style="left:789.59px;top:476.00px;width:58.78px;height:15.00px">2435,43</div>
<div class="c n" style="left:62.87px;top:491.00px;width:288.55px;height:14.50px">Ушаковский сельсовет</div>
<div class="c d" style="left:351.42px;top:491.00px;width:54.28px;height:14.50px">4203,65</div>
<div class="c d" style="left:405.70px;top:491.00px;width:52.08px;height:14.50px">3065,80</div>
<div class="c d" style="left:461.48px;top:491.00px;width:61.96px;height:14.50px">2769,20</div>
<div class="c d" style="left:519.75px;top:491.00px;width:50.59px;height:14.50px">4515,50</div>
<div class="c d" style="left:570.34px;top:491.00px;width:51.99px;height:14.50px">3264,25</div>
<div class="c d" style="left:626.02px;top:491.00px;width:59.47px;height:14.50px">2939,30</div>
<div class="c d" style="left:681.79px;top:491.00px;width:52.28px;height:14.50px">4203,65</div>
<div class="c d" style="left:734.07px;top:491.00px;width:51.79px;height:14.50px">3065,80</div>
<div class="c d" style="left:789.56px;top:491.00px;width:58.77px;height:14.50px">2769,20</div>
<div class="c n" style="left:62.91px;top:505.50px;width:288.52px;height:14.30px">Шутихинский сельсовет</div>
<div class="c d" style="left:351.43px;top:505.50px;width:54.27px;height:14.30px">4483,66</div>
<div class="c d" style="left:405.70px;top:505.50px;width:52.08px;height:14.30px">3321,81</div>
<div class="c d" style="left:461.48px;top:505.50px;width:61.96px;height:14.30px">3019,21</div>
<div class="c d" style="left:519.74px;top:505.50px;width:50.58px;height:14.30px">4729,51</div>
<div class="c d" style="left:570.32px;top:505.50px;width:51.98px;height:14.30px">3478,26</div>
<div class="c d" style="left:626.00px;top:505.50px;width:59.46px;height:14.30px">3153,31</div>
<div class="c d" style="left:681.77px;top:505.50px;width:52.28px;height:14.30px">4417,66</div>
<div class="c d" style="left:734.05px;top:505.50px;width:51.78px;height:14.30px">3279,81</div>
<div class="c d" style="left:789.53px;top:505.50px;width:58.76px;height:14.30px">2983,21</div>
<div class="c n" style="left:62.95px;top:519.80px;width:288.49px;height:15.10px"><b>Притобольный район</b></div>
<div class="c n" style="left:62.99px;top:534.90px;width:288.46px;height:14.60px">Глядянский сельсовет</div>
<div class="c d" style="left:351.45px;top:534.90px;width:54.26px;height:14.60px">4258,79</div>
<div class="c d" style="left:405.71px;top:534.90px;width:52.07px;height:14.60px">3368,24</div>
<div class="c d" style="left:461.48px;top:534.90px;width:61.94px;height:14.60px">3133,46</div>
<div class="c d" style="left:519.73px;top:534.90px;width:50.57px;height:14.60px">4570,64</div>
<div class="c d" style="left:570.30px;top:534.90px;width:51.97px;height:14.60px">3566,69</div>
<div class="c d" style="left:625.97px;top:534.90px;width:59.45px;height:14.60px">3303,56</div>
<div class="c d" style="left:681.72px;top:534.90px;width:52.27px;height:14.60px">4258,79</div>
<div class="c d" style="left:733.99px;top:534.90px;width:51.77px;height:14.60px">3368,24</div>
<div class="c d" style="left:789.46px;top:534.90px;width:58.75px;height:14.60px">3133,46</div>
<div class="c n" style="left:63.03px;top:549.50px;width:288.43px;height:14.60px">Березовский сельсовет</div>
<div class="c d" style="left:351.46px;top:549.50px;width:54.26px;height:14.60px">5421,95</div>
<div class="c d" style="left:405.72px;top:549.50px;width:52.06px;height:14.60px">4218,09</div>
<div class="c d" style="left:461.48px;top:549.50px;width:61.94px;height:14.60px">3904,99</div>
<div class="c d" style="left:519.72px;top:549.50px;width:50.57px;height:14.60px">5697,50</div>
<div class="c d" style="left:570.29px;top:549.50px;width:51.96px;height:14.60px">4393,44</div>
<div class="c d" style="left:625.95px;top:549.50px;width:59.44px;height:14.60px">4055,29</div>
<div class="c d" style="left:681.70px;top:549.50px;width:52.26px;height:14.60px">5385,65</div>
<div class="c d" style="left:733.96px;top:549.50px;width:51.76px;height:14.60px">4194,99</div>
<div class="c d" style="left:789.42px;top:549.50px;width:58.75px;height:14.60px">3885,19</div>
</div></div>
</body></html>
